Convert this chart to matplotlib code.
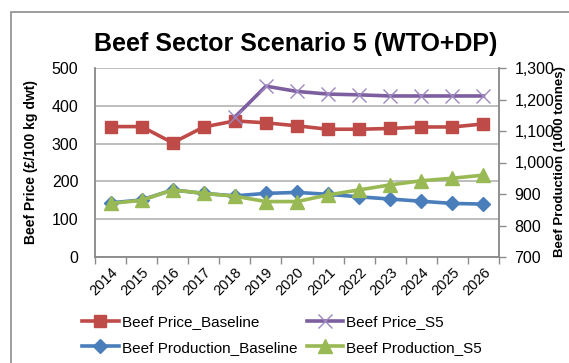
import numpy as np
import matplotlib.pyplot as plt
from matplotlib.patches import Rectangle
from matplotlib.ticker import FuncFormatter

plt.rcParams['font.family'] = ['Liberation Sans', 'DejaVu Sans']

# data
years = [str(y) for y in range(2014, 2027)]
price_baseline = [345, 345, 302, 344, 360, 355, 347, 338, 338, 340, 344, 344, 352]
price_s5 = [np.nan, np.nan, np.nan, np.nan, 370, 452, 438, 431, 429, 426, 426, 426, 426]
prod_baseline = [872, 881, 913, 902, 894, 902, 905, 899, 891, 884, 877, 870, 868]
prod_s5 = [870, 880, 913, 902, 893, 876, 876, 897, 913, 929, 942, 950, 960]

W, H = 569, 363
fig = plt.figure(figsize=(W / 100, H / 100), dpi=100)

# chart border (cropped on the right and bottom)
fig.patches.append(Rectangle((11 / W, -0.1), 1.2, 1 - 12 / H + 0.1, transform=fig.transFigure,
                             fill=False, edgecolor='#8c8c8c', linewidth=1.2))

ax = fig.add_axes([95 / W, 1 - 257 / H, 404 / W, 189 / H])
ax2 = ax.twinx()

x = np.arange(len(years))
grid_c = '#b3b3b3'

l1, = ax.plot(x, price_baseline, color='#be4b48', lw=2.6, marker='s', ms=8.5,
              label='Beef Price_Baseline', zorder=3)
l2, = ax.plot(x, price_s5, color='#7d5fa0', lw=2.6, marker='x', ms=10, mew=1.0,
              mec='#9d87c0', label='Beef Price_S5', zorder=4)
l3, = ax2.plot(x, prod_baseline, color='#4a7ebb', lw=2.6, marker='D', ms=7,
               label='Beef Production_Baseline', zorder=3)
l4, = ax2.plot(x, prod_s5, color='#98b954', lw=2.6, marker='^', ms=9.5,
               label='Beef Production_S5', zorder=4)

ax.set_xlim(-0.5, len(years) - 0.5)
ax.set_ylim(0, 500)
ax.set_yticks(range(0, 501, 100))
ax.yaxis.grid(True, color=grid_c, lw=1.2)
ax.set_axisbelow(True)
ax.tick_params(axis='y', length=0, pad=12, labelsize=11.5)
ax.set_xticks(x)
ax.set_xticklabels(years, rotation=45, ha='right', rotation_mode='anchor', fontsize=10.5)
ax.tick_params(axis='x', length=0, pad=6)
ax.set_xticks(np.arange(-0.5, len(years)), minor=True)
ax.tick_params(axis='x', which='minor', length=5, color='#8c8c8c', width=1)

ax2.set_ylim(700, 1300)
ax2.set_yticks(range(700, 1301, 100))
ax2.yaxis.set_major_formatter(FuncFormatter(lambda v, p: f'{int(v):,}'))
ax2.tick_params(axis='y', length=5, color='#8c8c8c', width=1, pad=6, labelsize=11.5)

for a in (ax, ax2):
    a.spines['top'].set_visible(False)
    for s in ('left', 'right', 'bottom'):
        a.spines[s].set_color('#8c8c8c')
        a.spines[s].set_linewidth(1.1)

ax.set_ylabel('Beef Price (£/100 kg dwt)', fontsize=10, fontweight='bold', labelpad=10)
fig.text(560 / W, 1 - 162 / H, 'Beef Production (1000 tonnes)', rotation=90,
         ha='center', va='center', fontsize=9.5, fontweight='bold')

fig.text(296 / W, 1 - 44 / H, 'Beef Sector Scenario 5 (WTO+DP)', ha='center', va='center',
         fontsize=18, fontweight='bold')

# legend filled row by row
fig.legend(handles=[l1, l3, l2, l4], ncol=2, loc='center left',
           bbox_to_anchor=(76 / W, 1 - 335 / H), frameon=False, fontsize=11,
           handlelength=2.4, handletextpad=0.2, columnspacing=0.6, labelspacing=0.75,
           borderaxespad=0)

fig.savefig('out.png', dpi=100)
